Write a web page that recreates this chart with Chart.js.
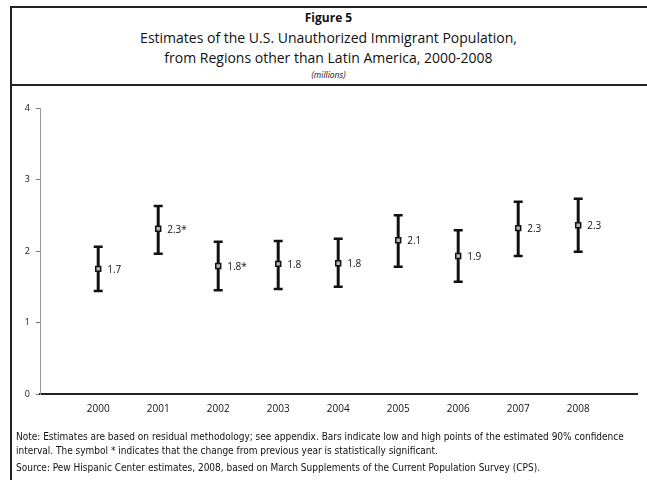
<!DOCTYPE html>
<html lang="en">
<head>
<meta charset="UTF-8">
<title>Figure 5</title>
<script src="https://cdn.jsdelivr.net/npm/chart.js"></script>
<style>
    body {
        margin: 0;
        background: #fff;
        font-family: "Open Sans", Arial, sans-serif;
        color: #111;
    }
    #page {
        position: relative;
        width: 647px;
        height: 480px;
        overflow: hidden;
    }
    #frame {
        position: absolute;
        left: 10px;
        top: 6px;
        width: 660px;
        height: 500px;
        border-left: 2px solid #222;
        border-top: 2px solid #222;
    }
    #titlebox {
        position: absolute;
        left: 10px;
        top: 84px;
        width: 660px;
        border-top: 2px solid #222;
    }
    .t {
        position: absolute;
        left: 10px;
        width: 637px;
        text-align: center;
        white-space: nowrap;
    }
    .note {
        position: absolute;
        left: 16px;
        font-family: "Liberation Sans Narrow", "DejaVu Sans Condensed", sans-serif;
        font-size: 10px;
        white-space: nowrap;
    }
    #chart-box {
        position: absolute;
        left: 0;
        top: 0;
        width: 647px;
        height: 480px;
    }
</style>
</head>
<body>
<div id="page">
    <div id="frame"></div>
    <div id="titlebox"></div>
    <div class="t" style="top:9px;font-size:12px;font-weight:bold;">Figure 5</div>
    <div class="t" style="top:28px;font-size:14px;">Estimates of the U.S. Unauthorized Immigrant Population,</div>
    <div class="t" style="top:48px;font-size:14px;">from Regions other than Latin America, 2000-2008</div>
    <div class="t" style="top:69px;font-size:8.5px;font-style:italic;">(millions)</div>
    <div id="chart-box"><canvas id="chart"></canvas></div>
    <div class="note" style="top:431px;">Note: Estimates are based on residual methodology; see appendix. Bars indicate low and high points of the estimated 90% confidence</div>
    <div class="note" style="top:445px;">interval. The symbol * indicates that the change from previous year is statistically significant.</div>
    <div class="note" style="top:462px;">Source: Pew Hispanic Center estimates, 2008, based on March Supplements of the Current Population Survey (CPS).</div>
</div>

<script>
    // data
    const years = [2000, 2001, 2002, 2003, 2004, 2005, 2006, 2007, 2008];
    const estimates = [1.75, 2.31, 1.79, 1.82, 1.83, 2.15, 1.93, 2.32, 2.36];
    const lows = [1.44, 1.96, 1.45, 1.47, 1.50, 1.78, 1.57, 1.93, 1.99];
    const highs = [2.06, 2.63, 2.13, 2.14, 2.17, 2.50, 2.29, 2.69, 2.73];
    const pointLabels = ['1.7', '2.3*', '1.8*', '1.8', '1.8', '2.1', '1.9', '2.3', '2.3'];
    const yTicks = [0, 1, 2, 3, 4];

    // error bars under the markers, value labels beside them
    const errorBars = {
        id: 'errorBars',
        beforeDatasetsDraw(chart) {
            const { ctx, scales: { x, y } } = chart;
            ctx.save();
            ctx.strokeStyle = '#111';
            years.forEach((yr, i) => {
                const px = x.getPixelForValue(yr);
                const top = y.getPixelForValue(highs[i]);
                const bot = y.getPixelForValue(lows[i]);
                ctx.lineWidth = 3;
                ctx.beginPath();
                ctx.moveTo(px, top);
                ctx.lineTo(px, bot);
                ctx.stroke();
                ctx.lineWidth = 2.5;
                ctx.beginPath();
                ctx.moveTo(px - 4.5, top);
                ctx.lineTo(px + 4.5, top);
                ctx.moveTo(px - 4.5, bot);
                ctx.lineTo(px + 4.5, bot);
                ctx.stroke();
            });
            ctx.restore();
        },
        afterDatasetsDraw(chart) {
            const { ctx, scales: { x, y } } = chart;
            ctx.save();
            ctx.fillStyle = '#111';
            ctx.font = '10px "Open Sans", sans-serif';
            ctx.textBaseline = 'middle';
            years.forEach((yr, i) => {
                ctx.fillText(pointLabels[i], x.getPixelForValue(yr) + 9, y.getPixelForValue(estimates[i]) + 1);
            });
            ctx.restore();
        }
    };

    const ctx = document.getElementById('chart').getContext('2d');
    const chart = new Chart(ctx, {
        type: 'scatter',
        data: {
            datasets: [{
                data: years.map((yr, i) => ({ x: yr, y: estimates[i] })),
                pointStyle: 'rect',
                pointRadius: 3.5,
                backgroundColor: '#b8b8b8',
                borderColor: '#111',
                borderWidth: 1.5
            }]
        },
        plugins: [errorBars],
        options: {
            responsive: true,
            maintainAspectRatio: false,
            animation: false,
            layout: { padding: { top: 108, right: 10, left: 0, bottom: 0 } },
            plugins: {
                legend: { display: false },
                tooltip: { enabled: false }
            },
            scales: {
                x: {
                    type: 'linear',
                    min: 1999.03,
                    max: 2008.98,
                    afterBuildTicks: (axis) => { axis.ticks = years.map(v => ({ value: v })); },
                    afterFit: (axis) => { axis.height = 86; },
                    grid: { drawOnChartArea: false, drawTicks: false },
                    border: { color: '#222', width: 2 },
                    ticks: {
                        padding: 9,
                        color: '#111',
                        font: { family: 'Open Sans', size: 10 },
                        callback: (v) => String(v)
                    }
                },
                y: {
                    min: 0,
                    max: 4,
                    afterBuildTicks: (axis) => { axis.ticks = yTicks.map(v => ({ value: v })); },
                    afterFit: (axis) => { axis.width = 40; },
                    grid: { drawOnChartArea: false, tickLength: 4, color: '#777' },
                    border: { color: '#999', width: 1 },
                    ticks: {
                        padding: 6,
                        color: '#111',
                        font: { family: 'Open Sans', size: 9 }
                    }
                }
            }
        }
    });
</script>
</body>
</html>
